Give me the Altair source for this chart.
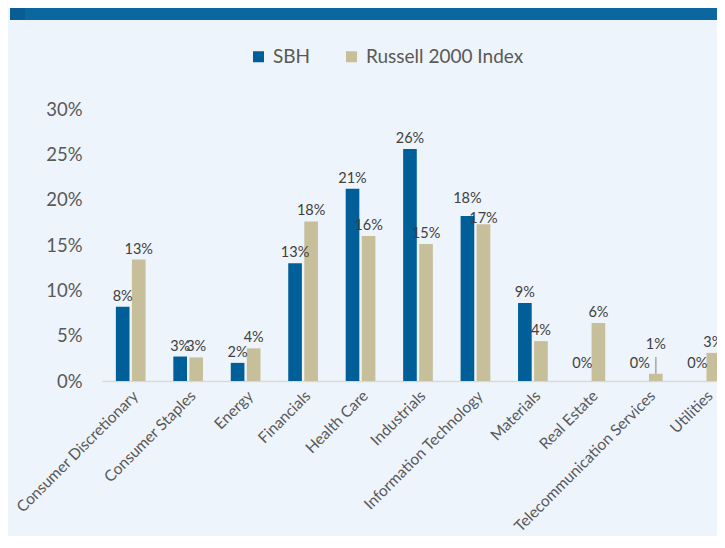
import altair as alt
import pandas as pd

# ---- data ----
sectors = [
    "Consumer Discretionary", "Consumer Staples", "Energy", "Financials",
    "Health Care", "Industrials", "Information Technology", "Materials",
    "Real Estate", "Telecommunication Services", "Utilities",
]
series_names = ["SBH", "Russell 2000 Index"]
sbh_values = [0.082, 0.027, 0.020, 0.130, 0.212, 0.256, 0.182, 0.086, 0.0, 0.0, 0.0]
russell_values = [0.134, 0.026, 0.036, 0.176, 0.160, 0.151, 0.173, 0.044, 0.064, 0.008, 0.031]
y_ticks = [0.0, 0.05, 0.10, 0.15, 0.20, 0.25, 0.30]
banner_title = ["REPRESENTATIVE ACCOUNT - SECTOR COMPOSITION"]

colors = ["#005f99", "#c7bf9a"]

rows = []
for name, vals in zip(series_names, [sbh_values, russell_values]):
    for s, v in zip(sectors, vals):
        rows.append({"Sector": s, "Series": name, "Value": v})
df = pd.DataFrame(rows)

x_enc = alt.X(
    "Sector:N",
    sort=sectors,
    scale=alt.Scale(domain=sectors, range=[0, 632], paddingInner=0.483, paddingOuter=0.2414),
    axis=alt.Axis(
        title=None, ticks=False, domainColor="#d9d9d9", domainWidth=1.5,
        labelAngle=-45, labelAlign="right", labelBaseline="middle",
        labelFontSize=15.5, labelColor="#595959", labelPadding=12, labelOffset=5,
        labelLimit=400, labelOverlap=False, labelFlush=False,
    ),
)
y_enc = alt.Y(
    "Value:Q",
    scale=alt.Scale(domain=[0, 0.30], nice=False),
    axis=alt.Axis(
        title=None, format=".0%", values=y_ticks, grid=False, domain=False,
        ticks=False, labelFontSize=18.5, labelColor="#595959", labelPadding=20,
    ),
)
xoff = alt.XOffset("Series:N", sort=series_names,
                   scale=alt.Scale(domain=series_names, paddingInner=0.15))

base = alt.Chart(df)

bars = base.mark_bar().encode(
    x=x_enc,
    xOffset=xoff,
    y=y_enc,
    color=alt.Color(
        "Series:N",
        sort=series_names,
        scale=alt.Scale(domain=series_names, range=colors),
        legend=alt.Legend(
            title=None, orient="none", legendX=147, legendY=-62,
            direction="horizontal", symbolType="square", symbolSize=121,
            symbolStrokeWidth=0, labelFontSize=19, labelColor="#595959",
            columnPadding=31, labelOffset=5,
        ),
    ),
)

label_enc = dict(
    x=alt.X("Sector:N", sort=sectors),
    xOffset=alt.XOffset("Series:N", sort=series_names),
    y=alt.Y("Value:Q"),
    text=alt.Text("Value:Q", format=".0%"),
)
label_style = dict(baseline="bottom", fontSize=14.5, color="#404040")

is_zero = "datum.Value === 0"
is_it_sbh = "datum.Sector === 'Information Technology' && datum.Series === 'SBH'"
is_it_r = "datum.Sector === 'Information Technology' && datum.Series !== 'SBH'"
is_tel_r = "datum.Sector === 'Telecommunication Services' && datum.Series !== 'SBH'"
special = [is_zero, is_it_sbh, is_it_r, is_tel_r]
is_regular = " && ".join("!(" + c + ")" for c in special)


def label_layer(cond, dy):
    return base.transform_filter(cond).mark_text(dy=dy, **label_style).encode(**label_enc)


labels = [
    label_layer(is_regular, -3),
    label_layer(is_zero, -10),
    label_layer(is_it_sbh, -10),
    label_layer(is_it_r, 2),
    label_layer(is_tel_r, -22),
]

leader = base.transform_filter(is_tel_r).mark_rule(color="#a6a6a6", strokeWidth=1.5).encode(
    x=alt.X("Sector:N", sort=sectors),
    xOffset=alt.XOffset("Series:N", sort=series_names),
    y=alt.Y("Value:Q"),
    y2=alt.value(248),
)

banner_df = pd.DataFrame({"title": banner_title})
banner = alt.Chart(banner_df).mark_rect(color="#0c66a0").encode(
    x=alt.value(-92), x2=alt.value(700), y=alt.value(-115), y2=alt.value(-89)
)
banner_edge = alt.Chart(banner_df).mark_rect(color="#0a5c94").encode(
    x=alt.value(-92), x2=alt.value(-77), y=alt.value(-115), y2=alt.value(-89)
)
banner_text = alt.Chart(banner_df).mark_text(
    color="white", fontSize=20, fontWeight="bold", baseline="bottom"
).encode(x=alt.value(270), y=alt.value(-105), text="title:N")

chart = alt.layer(banner, banner_edge, banner_text, bars, leader, *labels).properties(
    width=615,
    height=272,
    autosize=alt.AutoSizeParams(type="none"),
    padding={"left": 94, "top": 101, "right": 0, "bottom": 155},
    background="#eef4fb",
).configure(font="Lato").configure_view(stroke="transparent")

chart.save("out.html", embed_options={"renderer": "svg", "actions": False})
